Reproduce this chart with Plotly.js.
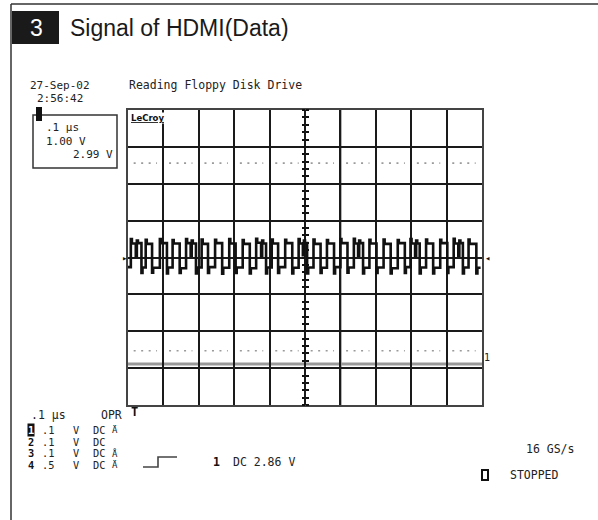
<!DOCTYPE html>
<html>
<head>
<meta charset="utf-8">
<script src="https://cdn.plot.ly/plotly-3.0.1.min.js"></script>
<style>
html,body{margin:0;padding:0;background:#fff;}
#chart{width:598px;height:520px;}
</style>
</head>
<body>
<div id="chart"></div>
<script>
// ---- data (time in ns, voltage in divisions at 1.00 V/div) ----
const waveT = [-500,
 -492,-489,-478,-475,-472,-462,-459,
 -450,-447,-432,-429,
 -410,-407,-390,-387,
 -374,-371,-354,-351,
 -336,-333,-323,-320,-317,-308,-305,
 -292,-289,-274,-271,
 -254,-251,-234,-231,
 -214,-211,-196,-193,
 -176,-173,-156,-153,
 -138,-135,-124,-121,-118,-110,-107,
 -94,-91,-76,-73,
 -56,-53,-36,-33,
 -18,-15,-6,-3,0,6,9,
 24,27,44,47,
 62,65,82,85,
 100,103,120,123,
 138,141,150,153,156,164,167,
 182,185,202,205,
 222,225,242,245,
 262,265,282,285,
 298,301,311,314,317,324,327,
 342,345,362,365,
 382,385,402,405,
 420,423,433,436,439,446,449,
 462,465,484,487,
 496];
const waveV = [-0.26,
 0.50,0.38,0.04,0.46,0.39,-0.42,-0.27,
 0.48,0.37,-0.41,-0.28,
 0.50,0.39,-0.43,-0.27,
 0.47,0.38,-0.42,-0.29,
 0.50,0.39,0.05,0.46,0.38,-0.43,-0.27,
 0.49,0.37,-0.42,-0.26,
 0.48,0.39,-0.44,-0.28,
 0.50,0.38,-0.42,-0.27,
 0.47,0.37,-0.43,-0.29,
 0.51,0.40,0.04,0.46,0.38,-0.43,-0.27,
 0.49,0.38,-0.42,-0.26,
 0.48,0.39,-0.43,-0.28,
 0.50,0.38,0.06,0.46,0.39,-0.43,-0.27,
 0.49,0.37,-0.42,-0.28,
 0.47,0.38,-0.43,-0.26,
 0.50,0.39,-0.41,-0.27,
 0.51,0.38,0.05,0.46,0.39,-0.43,-0.28,
 0.48,0.38,-0.42,-0.27,
 0.49,0.37,-0.43,-0.29,
 0.47,0.39,-0.42,-0.26,
 0.50,0.38,0.04,0.46,0.38,-0.43,-0.27,
 0.49,0.38,-0.43,-0.28,
 0.48,0.39,-0.42,-0.26,
 0.51,0.38,0.05,0.46,0.39,-0.43,-0.27,
 0.49,0.37,-0.43,-0.28,
 -0.28];
const cursorLevels = [2.56, -2.53];   // dotted cursor lines (div)
const groundLevel = -2.89;            // channel 1 ground marker (div)
const timeRange = [-500, 500];        // 0.1 us/div, 10 div
const voltRange = [-4, 4];            // 8 div

const titleText = "Signal of HDMI(Data)";
const badgeText = "3";
const dateText = "27-Sep-02";
const clockText = "2:56:42";
const captionText = "Reading Floppy Disk Drive";
const boxLines = [".1 μs", "1.00 V", "2.99 V"];
const chanNames = ["1", "2", "3", "4"];
const chanScales = [".1", ".1", ".1", ".5"];
const chanUnits = ["V", "V", "V", "V"];
const chanCoupling = ["DC", "DC", "DC", "DC"];
const chanMarks = ["Ä", "", "Å", "Ä"];
const timebaseText = ".1 μs";
const modeText = "OPR";
const trigSource = "1";
const trigText = "DC 2.86 V";
const rateText = "16 GS/s";
const stateText = "STOPPED";

// ---- layout geometry ----
const L = 128, R = 482, T = 110, B = 405;
const px = x => (x - L) / (R - L);
const py = y => (B - y) / (B - T);
const MONO = "DejaVu Sans Mono";
const INK = "#222";

function txt(x, y, s, o) {
  o = o || {};
  return {xref:'paper', yref:'paper', x:px(x), y:py(y), text:s, showarrow:false,
    xanchor:o.anchor || 'left', yanchor:'middle', borderpad:0,
    bgcolor:o.bg || 'rgba(0,0,0,0)',
    font:{family:o.family || MONO, size:o.size || 11.5, color:o.color || INK}};
}

const annotations = [];
annotations.push(txt(36, 28, badgeText, {anchor:'center', family:'Liberation Sans, Arial', size:23, color:'#fff'}));
annotations.push(txt(29, 85, dateText, {size:11}));
annotations.push(txt(36, 98.5, clockText, {size:11}));
annotations.push(txt(128, 85, captionText));
annotations.push(txt(45, 127.5, boxLines[0], {size:11}));
annotations.push(txt(45, 141, boxLines[1], {size:11}));
annotations.push(txt(114, 154.5, boxLines[2], {anchor:'right', size:11}));
annotations.push(txt(130, 118, '<b><u>LeCroy</u></b>', {family:'DejaVu Sans', size:8.5, bg:'#fff', color:'#111'}));
annotations.push(txt(30, 415, timebaseText));
annotations.push(txt(100, 415, modeText));
annotations.push(txt(134, 412, '<b>T</b>', {anchor:'center', size:12, color:'#111'}));
const rowY = [430, 441.5, 453, 464.5];
const RS = 10.3;
for (let i = 0; i < 4; i++) {
  if (i === 0) annotations.push(txt(31, rowY[i], '<b>' + chanNames[i] + '</b>', {anchor:'center', size:RS, color:'#fff', bg:'#111'}));
  else annotations.push(txt(31, rowY[i], '<b>' + chanNames[i] + '</b>', {anchor:'center', size:RS, color:'#111'}));
  annotations.push(txt(41, rowY[i], chanScales[i], {size:RS}));
  annotations.push(txt(72, rowY[i], chanUnits[i], {size:RS}));
  annotations.push(txt(92, rowY[i], chanCoupling[i], {size:RS}));
  if (chanMarks[i]) annotations.push(txt(111, rowY[i], chanMarks[i], {size:9}));
}
annotations.push(txt(216, 462, '<b>' + trigSource + '</b>', {anchor:'center', color:'#111'}));
annotations.push(txt(232, 462, trigText));
annotations.push(txt(525, 449, rateText));
annotations.push(txt(509, 475, stateText));
annotations.push(txt(487, 357, '1', {anchor:'center', size:10}));
annotations.push(txt(124, 258, '▸', {anchor:'center', size:9, color:'#111'}));
annotations.push(txt(487, 258, '◂', {anchor:'center', size:9, color:'#111'}));

const shapes = [];
// outer frame (left + top)
shapes.push({type:'line', xref:'paper', yref:'paper', x0:px(11), x1:px(11), y0:py(4), y1:py(520), line:{color:'#333', width:1.5}});
shapes.push({type:'line', xref:'paper', yref:'paper', x0:px(11), x1:px(598), y0:py(4), y1:py(4), line:{color:'#333', width:1.5}});
// badge
shapes.push({type:'rect', xref:'paper', yref:'paper', x0:px(12), x1:px(59), y0:py(11), y1:py(44), fillcolor:'#1a1a1a', line:{width:0}});
// parameter box
shapes.push({type:'rect', xref:'paper', yref:'paper', x0:px(33), x1:px(117), y0:py(115), y1:py(168), line:{color:'#333', width:1.5}});
shapes.push({type:'rect', xref:'paper', yref:'paper', x0:px(36), x1:px(42), y0:py(107), y1:py(121), fillcolor:'#111', line:{width:0}});
// trigger step symbol
shapes.push({type:'path', xref:'paper', yref:'paper',
  path:'M' + px(143) + ',' + py(467) + ' L' + px(158) + ',' + py(467) + ' L' + px(158) + ',' + py(457) + ' L' + px(177) + ',' + py(457),
  line:{color:'#444', width:1.6}});
// stopped indicator
shapes.push({type:'rect', xref:'paper', yref:'paper', x0:px(482), x1:px(488), y0:py(470), y1:py(480), line:{color:'#111', width:2}});
// gray grid emphasis
shapes.push({type:'line', xref:'x', yref:'paper', x0:0, x1:0, y0:0, y1:1, layer:'between', line:{color:'#8a8a8a', width:1.5}});
shapes.push({type:'line', xref:'x', yref:'paper', x0:100, x1:100, y0:0, y1:1, layer:'between', line:{color:'#8a8a8a', width:2.5}});
shapes.push({type:'line', xref:'paper', yref:'y', x0:0, x1:1, y0:groundLevel, y1:groundLevel, layer:'between', line:{color:'#9a9a9a', width:3}});
// dotted cursor lines: four dots per division
for (const lvl of cursorLevels) {
  for (let k = 0; k < 10; k++) {
    const a = timeRange[0] + 100 * k;
    shapes.push({type:'line', xref:'x', yref:'y', x0:a + 16, x1:a + 82, y0:lvl, y1:lvl, layer:'between',
      line:{color:'#9a9a9a', width:1.6, dash:'2px,5.5px'}});
  }
}

const axBase = {showticklabels:false, zeroline:false, fixedrange:true};
const layout = {
  width:598, height:520,
  margin:{l:L, r:598 - R, t:T, b:520 - B, pad:0},
  paper_bgcolor:'#fff', plot_bgcolor:'#fff',
  showlegend:false,
  title:{text:titleText, xref:'container', yref:'container', x:70/598, y:1 - 28/520,
    xanchor:'left', yanchor:'middle', font:{family:'Liberation Sans, Arial', size:23, color:'#1a1a1a'}},
  xaxis:Object.assign({}, axBase, {range:timeRange, tick0:-500, dtick:100, showgrid:true, gridcolor:'#1a1a1a', gridwidth:2,
    showline:true, mirror:true, linecolor:'#444', linewidth:2, ticks:''}),
  yaxis:Object.assign({}, axBase, {range:voltRange, tick0:-4, dtick:1, showgrid:true, gridcolor:'#1a1a1a', gridwidth:2,
    showline:true, mirror:true, linecolor:'#444', linewidth:2, ticks:''}),
  yaxis2:Object.assign({}, axBase, {overlaying:'y', anchor:'free', position:0.5, side:'left', range:voltRange, tick0:-4, dtick:0.2,
    ticks:'outside', ticklen:3, tickwidth:2, tickcolor:'#111', showgrid:false, showline:false}),
  yaxis3:Object.assign({}, axBase, {overlaying:'y', anchor:'free', position:0.5, side:'right', range:voltRange, tick0:-4, dtick:0.2,
    ticks:'outside', ticklen:3, tickwidth:2, tickcolor:'#111', showgrid:false, showline:false}),
  annotations:annotations,
  shapes:shapes
};

const traces = [
  {x:[], y:[], xaxis:'x', yaxis:'y2', mode:'lines', hoverinfo:'skip'},
  {x:[], y:[], xaxis:'x', yaxis:'y3', mode:'lines', hoverinfo:'skip'},
  {x:waveT, y:waveV, xaxis:'x', yaxis:'y', mode:'lines', line:{shape:'hv', color:'#111', width:2.6}, hoverinfo:'skip'}
];

Plotly.newPlot('chart', traces, layout, {staticPlot:true, displayModeBar:false});
</script>
</body>
</html>
